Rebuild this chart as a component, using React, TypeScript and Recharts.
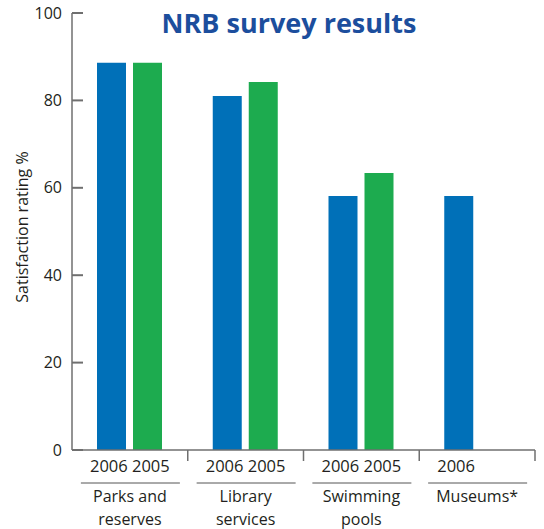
import React from 'react';
import { BarChart, Bar, XAxis, YAxis } from 'recharts';

const categories = ['Parks and reserves', 'Library services', 'Swimming pools', 'Museums*'];
const categoryLines = [['Parks and', 'reserves'], ['Library', 'services'], ['Swimming', 'pools'], ['Museums*']];
const years = ['2006', '2005'];
const values2006 = [88.6, 81.0, 58.1, 58.1];
const values2005: (number | null)[] = [88.6, 84.2, 63.4, null];
const yTicks = [0, 20, 40, 60, 80, 100];

const WIDTH = 544;
const HEIGHT = 529;
const MARGIN = { top: 13, right: 9, left: 0, bottom: 0 };
const Y_AXIS_W = 72;
const X_AXIS_H = 79;
const BAND_W = (WIDTH - MARGIN.left - MARGIN.right - Y_AXIS_W) / categories.length;
const LABEL_OFFSET = 21;

const BLUE = '#0070b8';
const GREEN = '#1dab4f';
const AXIS = '#6f6f6f';
const TEXT = '#231f20';
const FONT = '"Open Sans", sans-serif';

const data = categories.map((name, i) => ({
  name,
  y2006: values2006[i],
  y2005: values2005[i],
}));

// y ticks point inwards, into the plot
const YTick = (props: any) => {
  const { x, y, payload } = props;
  return (
    <g>
      <line x1={x + 10} x2={x + 21} y1={y} y2={y} stroke={AXIS} strokeWidth={2} />
      <text x={x} y={y} dy="0.35em" textAnchor="end" fill={TEXT} fontSize={16} fontFamily={FONT}>
        {payload.value}
      </text>
    </g>
  );
};

const XTick = (props: any) => {
  const { x, y, payload } = props;
  const i = categories.indexOf(payload.value);
  const shown = [values2006[i] != null, values2005[i] != null];
  return (
    <g>
      <line x1={x + BAND_W / 2} x2={x + BAND_W / 2} y1={y} y2={y + 11} stroke={AXIS} strokeWidth={1.5} />
      {years.map((yr, k) =>
        shown[k] ? (
          <text
            key={yr}
            x={x + (k === 0 ? -LABEL_OFFSET : LABEL_OFFSET)}
            y={y + 16}
            dy="0.35em"
            textAnchor="middle"
            fill={TEXT}
            fontSize={16.5}
            fontFamily={FONT}
          >
            {yr}
          </text>
        ) : null
      )}
      <line x1={x - 49} x2={x + 50} y1={y + 33} y2={y + 33} stroke="#555" strokeWidth={1} />
      {categoryLines[i].map((t, k) => (
        <text
          key={t}
          x={x}
          y={y + 46 + k * 23}
          dy="0.35em"
          textAnchor="middle"
          fill={TEXT}
          fontSize={16}
          fontFamily={FONT}
        >
          {t}
        </text>
      ))}
    </g>
  );
};

export default function App() {
  return (
    <div style={{ position: 'absolute', left: 0, top: 0, width: WIDTH, height: HEIGHT, background: '#fff' }}>
      <BarChart width={WIDTH} height={HEIGHT} data={data} margin={MARGIN} barCategoryGap={25} barGap={7}>
        <XAxis
          dataKey="name"
          height={X_AXIS_H}
          tickLine={false}
          tickSize={0}
          tickMargin={0}
          interval={0}
          axisLine={{ stroke: AXIS, strokeWidth: 1.5 }}
          tick={<XTick />}
        />
        <YAxis
          width={Y_AXIS_W}
          domain={[0, 100]}
          ticks={yTicks}
          tickLine={false}
          tickSize={0}
          tickMargin={10}
          axisLine={{ stroke: AXIS, strokeWidth: 1.5 }}
          tick={<YTick />}
        />
        <Bar dataKey="y2006" fill={BLUE} isAnimationActive={false} />
        <Bar dataKey="y2005" fill={GREEN} isAnimationActive={false} />
      </BarChart>
      <div
        style={{
          position: 'absolute',
          left: 289,
          top: 22,
          transform: 'translate(-50%, -50%)',
          whiteSpace: 'nowrap',
          fontFamily: FONT,
          fontWeight: 700,
          fontSize: 27,
          color: '#1c4e9d',
        }}
      >
        NRB survey results
      </div>
      <div
        style={{
          position: 'absolute',
          left: 22,
          top: 227,
          transform: 'translate(-50%, -50%) rotate(-90deg)',
          whiteSpace: 'nowrap',
          fontFamily: FONT,
          fontSize: 16,
          color: TEXT,
        }}
      >
        Satisfaction rating %
      </div>
    </div>
  );
}
